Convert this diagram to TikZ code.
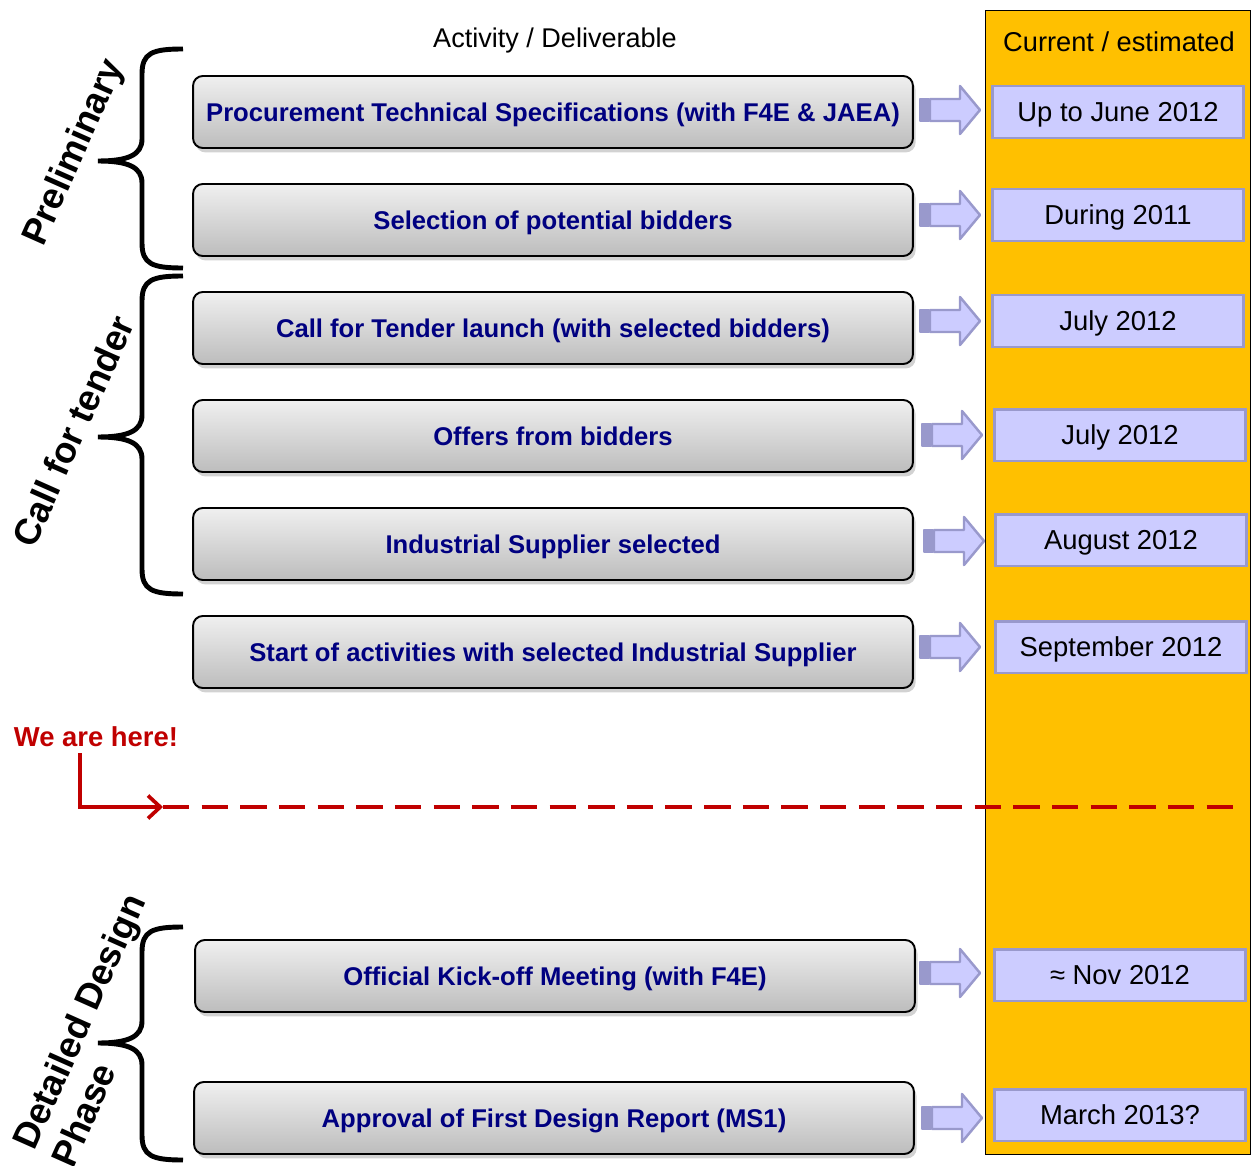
\documentclass[tikz,border=0pt]{standalone}
\usepackage{fontspec}
\setmainfont{Liberation Sans}
\usetikzlibrary{shadows,arrows.meta,backgrounds}
\definecolor{navyt}{HTML}{000080}
\definecolor{gold}{HTML}{FFC000}
\definecolor{lav}{HTML}{CCCCFF}
\definecolor{lavdark}{HTML}{9999CC}
\definecolor{hred}{HTML}{C00000}
\newcommand\blkarr[2]{%
  \filldraw[blkarrow] ({#1+10},{#2-11}) -- ({#1+40},{#2-11}) -- ({#1+40},{#2-24}) -- ({#1+60},{#2}) -- ({#1+40},{#2+24}) -- ({#1+40},{#2+11}) -- ({#1+10},{#2+11}) -- cycle;
  \filldraw[blkarrow,fill=lavdark] (#1,{#2-11}) rectangle ({#1+9},{#2+11});}
\newcommand\phbrace[3]{%
  \draw[bracepath] (183,#1) .. controls (152,#1) and (142,{#1+4}) .. (142,{#1+25}) -- (142,{#2-22}) .. controls (142,{#2-6}) and (128,#2) .. (98,#2) .. controls (128,#2) and (142,{#2+6}) .. (142,{#2+22}) -- (142,{#3-25}) .. controls (142,{#3-4}) and (152,#3) .. (183,#3);}
\begin{document}
\begin{tikzpicture}[x=0.02cm,y=-0.02cm,
 actbox/.style={draw=black, line width=1.1pt, rounded corners=5.5pt, top color=gray!12, bottom color=gray!52, minimum width=14.4cm, minimum height=1.44cm, inner sep=0pt, text depth=0pt, text=navyt, font=\bfseries\fontsize{14.6}{17}\selectfont, drop shadow={opacity=0.35, shadow xshift=1.5pt, shadow yshift=-2.5pt}},
 datebox/.style={draw=lavdark, line width=1.7pt, fill=lav, minimum width=5.04cm, minimum height=1.04cm, inner sep=0pt, text depth=0pt, font=\fontsize{15.6}{18}\selectfont},
 phase/.style={font=\bfseries\fontsize{20.8}{24}\selectfont, rotate=66, align=left, inner sep=0pt},
 link/.style={line width=0.8pt},
 dlink/.style={line width=0.8pt, dash pattern=on 4pt off 2.8pt},
 bracepath/.style={line width=2.8pt},
 blkarrow/.style={fill=lav, draw=lavdark, line width=1.4pt, line join=round},
 hline/.style={hred, line width=2.1pt}
]
\useasboundingbox (0,0) rectangle (1252,1166);
\fill[white] (0,0) rectangle (1252,1166);

% right column
\node[draw=black, line width=0.6pt, fill=gold, minimum width=5.3cm, minimum height=22.88cm, inner sep=0pt, anchor=north west] (col) at (985,10) {};
\node[font=\fontsize{15.5}{18}\selectfont, text depth=0pt] (coltitle) at (1119,42) {Current / estimated};
\node[font=\fontsize{15.4}{18}\selectfont, text depth=0pt] (acttitle) at (555,38) {Activity / Deliverable};

% activity boxes
\node[actbox] (b1) at (553,112) {Procurement Technical Specifications (with F4E \& JAEA)};
\node[actbox] (b2) at (553,220) {Selection of potential bidders};
\node[actbox] (b3) at (553,328) {Call for Tender launch (with selected bidders)};
\node[actbox] (b4) at (553,436) {Offers from bidders};
\node[actbox] (b5) at (553,544) {Industrial Supplier selected};
\node[actbox] (b6) at (553,652) {Start of activities with selected Industrial Supplier};
\node[actbox] (b7) at (555,976) {Official Kick-off Meeting (with F4E)};
\node[actbox] (b8) at (554,1118) {Approval of First Design Report (MS1)};

% date boxes
\node[datebox] (d1) at (1118,112) {Up to June 2012};
\node[datebox] (d2) at (1118,215) {During 2011};
\node[datebox] (d3) at (1118,321) {July 2012};
\node[datebox] (d4) at (1120,435) {July 2012};
\node[datebox] (d5) at (1121,540) {August 2012};
\node[datebox] (d6) at (1121,647) {September 2012};
\node[datebox] (d7) at (1120,975) {≈ Nov 2012};
\node[datebox] (d8) at (1120,1115) {March 2013?};

% block arrows
\blkarr{920}{110}
\blkarr{920}{215}
\blkarr{920}{321}
\blkarr{922}{435}
\blkarr{924}{541}
\blkarr{920}{647}
\blkarr{920}{973}
\blkarr{922}{1118}

% connectors
\begin{pgfonlayer}{background}
\draw[link] (b1.south) -- (b2.north);
\draw[link] (b2.south) -- (b3.north);
\draw[link] (b3.south) -- (b4.north);
\draw[link] (b4.south) -- (b5.north);
\draw[link] (b5.south) -- (b6.north);
\draw[dlink] (b6.south) -- (b6.south |- b7.north);
\draw[dlink] (b7.south -| b6.south) -- (b6.south |- b8.north);
\end{pgfonlayer}

% braces and phase labels
\phbrace{49}{161}{268}
\phbrace{276}{437}{594}
\phbrace{927}{1043}{1160}
\node[phase] (p1) at (75,153) {Preliminary};
\node[phase] (p2) at (73,431) {Call for tender};
\node[phase] (p3) at (98,1030) {Detailed Design\\Phase};

% we are here
\node[text=hred, font=\bfseries\fontsize{15.6}{18}\selectfont] (here) at (96,737) {We are here!};
\coordinate (hx) at (80,807);
\coordinate (hstart) at (163,807);
\coordinate (hend) at (1245,807);
\draw[hline, -{Straight Barb[length=7pt,width=13pt,line width=2.1pt]}] (here.south -| hx) |- (hstart);
\draw[hline, dash pattern=on 15pt off 7pt] (hstart) -- (hend);
\end{tikzpicture}
\end{document}
